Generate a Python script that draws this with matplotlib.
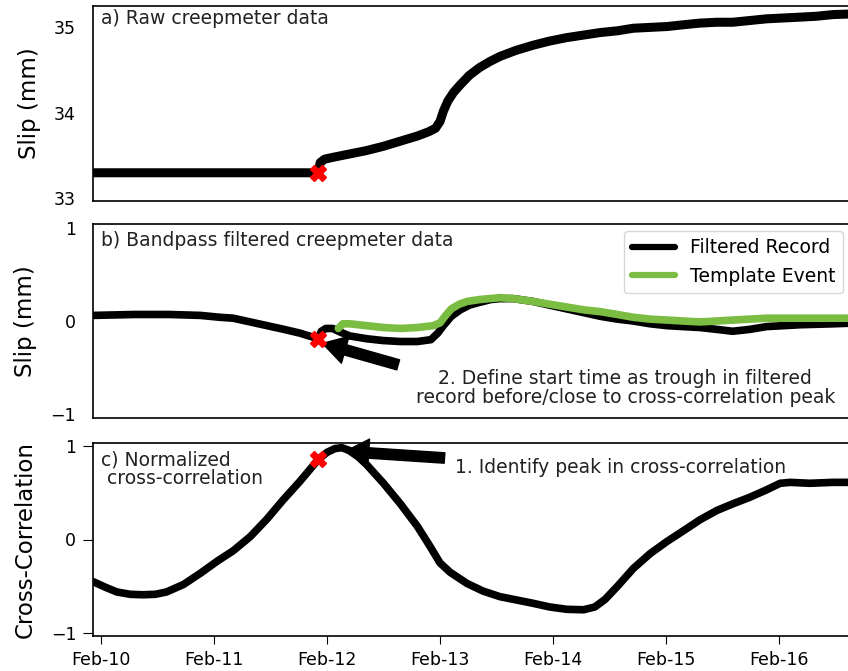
import matplotlib
matplotlib.use("Agg")
import matplotlib.pyplot as plt
import matplotlib.dates as mdates
import numpy as np
from datetime import datetime

# ---- data (time in days after Feb-10 00:00) ----
start = mdates.date2num(datetime(2020, 2, 10))

raw_t = [-0.07, 1.92, 1.94, 1.98, 2.05, 2.20, 2.35, 2.50, 2.65, 2.80, 2.90, 2.96, 3.00, 3.03,
         3.07, 3.12, 3.18, 3.26, 3.35, 3.44, 3.53, 3.67, 3.82, 3.97, 4.12, 4.27, 4.42, 4.57,
         4.71, 4.86, 5.01, 5.15, 5.30, 5.45, 5.59, 5.74, 5.89, 6.04, 6.19, 6.33, 6.48, 6.72]
raw_slip = [33.30, 33.30, 33.42, 33.46, 33.48, 33.52, 33.56, 33.61, 33.67, 33.73, 33.78, 33.82,
            33.90, 34.02, 34.14, 34.24, 34.33, 34.44, 34.53, 34.60, 34.66, 34.73, 34.79, 34.84,
            34.88, 34.91, 34.94, 34.96, 34.99, 35.00, 35.01, 35.03, 35.05, 35.06, 35.06, 35.08,
            35.10, 35.11, 35.12, 35.13, 35.15, 35.16]

filt_t = [-0.07, 0.30, 0.60, 0.88, 1.05, 1.17, 1.32, 1.47, 1.62, 1.76, 1.92, 1.95, 1.99, 2.05,
          2.12, 2.20, 2.35, 2.50, 2.65, 2.80, 2.92, 2.98, 3.03, 3.10, 3.18, 3.26, 3.35, 3.45,
          3.53, 3.65, 3.82, 3.97, 4.12, 4.27, 4.42, 4.57, 4.71, 4.86, 5.01, 5.15, 5.30, 5.45,
          5.59, 5.74, 5.89, 6.04, 6.19, 6.48, 6.72]
filt_slip = [0.06, 0.07, 0.07, 0.06, 0.04, 0.03, -0.01, -0.05, -0.09, -0.13, -0.19, -0.11, -0.08,
             -0.08, -0.12, -0.16, -0.19, -0.21, -0.22, -0.22, -0.20, -0.13, -0.05, 0.05, 0.12,
             0.17, 0.20, 0.23, 0.24, 0.24, 0.21, 0.17, 0.13, 0.09, 0.05, 0.02, 0.00, -0.03, -0.05,
             -0.06, -0.07, -0.09, -0.11, -0.09, -0.06, -0.05, -0.04, -0.03, -0.02]

tmpl_t = [2.10, 2.14, 2.20, 2.35, 2.50, 2.65, 2.80, 2.94, 3.00, 3.05, 3.10, 3.17, 3.24, 3.35,
          3.53, 3.65, 3.82, 3.97, 4.12, 4.27, 4.42, 4.57, 4.71, 4.86, 5.01, 5.15, 5.30, 5.45,
          5.59, 5.74, 5.89, 6.19, 6.72]
tmpl_slip = [-0.08, -0.03, -0.03, -0.05, -0.07, -0.08, -0.07, -0.05, -0.02, 0.06, 0.13, 0.18,
             0.21, 0.23, 0.25, 0.24, 0.21, 0.18, 0.15, 0.12, 0.10, 0.07, 0.04, 0.02, 0.01, 0.00,
             -0.01, 0.00, 0.01, 0.02, 0.03, 0.03, 0.03]

cc_t = [-0.07, 0.04, 0.14, 0.26, 0.37, 0.48, 0.58, 0.73, 0.88, 1.03, 1.17, 1.32, 1.47, 1.61,
        1.76, 1.92, 2.00, 2.07, 2.13, 2.20, 2.27, 2.35, 2.50, 2.65, 2.80, 2.91, 3.00, 3.09,
        3.24, 3.38, 3.53, 3.82, 3.97, 4.12, 4.27, 4.37, 4.46, 4.57, 4.71, 4.86, 5.01, 5.15,
        5.30, 5.45, 5.59, 5.74, 5.89, 6.01, 6.10, 6.27, 6.48, 6.72]
cc_val = [-0.45, -0.51, -0.56, -0.585, -0.59, -0.585, -0.56, -0.48, -0.36, -0.23, -0.12, 0.03,
          0.22, 0.42, 0.62, 0.85, 0.93, 0.97, 0.98, 0.95, 0.89, 0.80, 0.60, 0.38, 0.14, -0.07,
          -0.25, -0.35, -0.47, -0.55, -0.61, -0.68, -0.72, -0.745, -0.75, -0.72, -0.64, -0.50,
          -0.31, -0.15, -0.02, 0.09, 0.21, 0.31, 0.38, 0.45, 0.53, 0.60, 0.61, 0.60, 0.61, 0.61]

pick_t = 1.92
pick_raw = 33.30
pick_filt = -0.19
pick_cc = 0.86

tick_days = [0, 1, 2, 3, 4, 5, 6]

GREEN = "#7bbd42"

def d(arr):
    return start + np.asarray(arr, dtype=float)

W, H = 848, 671
fig = plt.figure(figsize=(W / 100, H / 100), dpi=100)

left = 93 / W
right_px = 880
ax_w_px = right_px - 93
width = ax_w_px / W

def ax_rect(top_px, bot_px):
    return [left, 1 - bot_px / H, width, (bot_px - top_px) / H]

ax1 = fig.add_axes(ax_rect(6, 201))
ax2 = fig.add_axes(ax_rect(224, 418), sharex=ax1)
ax3 = fig.add_axes(ax_rect(443, 636), sharex=ax1)

px_per_day = 113
x0 = start - 8 / px_per_day
x1 = x0 + ax_w_px / px_per_day

TICK_FS = 12.5
TXT_FS = 13.5
YL_FS = 16.5
TXT_C = "#222222"
line_kw = dict(solid_joinstyle="round", solid_capstyle="round")

# Panel a
ax1.plot(d(raw_t), raw_slip, color="black", lw=6.5, **line_kw)
ax1.plot(d([pick_t]), [pick_raw], "X", color="red", ms=11, zorder=5)
ax1.set_ylim(32.97, 35.25)
ax1.set_yticks([33, 34, 35])
ax1.set_ylabel("Slip (mm)", fontsize=YL_FS)
ax1.yaxis.set_label_coords((41 - 93) / ax_w_px, 0.5)
ax1.text(101 / W, 1 - 19 / H, "a) Raw creepmeter data", transform=fig.transFigure,
         fontsize=TXT_FS, va="center", ha="left", color=TXT_C)
ax1.tick_params(axis="y", length=0, labelsize=TICK_FS, pad=12.5)
ax1.tick_params(axis="x", bottom=False, labelbottom=False)

# Panel b
ax2.plot(d(filt_t), filt_slip, color="black", lw=5.5, label="Filtered Record", **line_kw)
ax2.plot(d(tmpl_t), tmpl_slip, color=GREEN, lw=5.5, label="Template Event", **line_kw)
ax2.plot(d([pick_t]), [pick_filt], "X", color="red", ms=11, zorder=5)
ax2.set_ylim(-1.04, 1.04)
ax2.set_yticks([-1, 0, 1])
ax2.set_ylabel("Slip (mm)", fontsize=YL_FS)
ax2.yaxis.set_label_coords((37 - 93) / ax_w_px, 0.5)
ax2.tick_params(axis="y", length=0, labelsize=TICK_FS, pad=12.5)
ax2.tick_params(axis="x", bottom=False, labelbottom=False)
ax2.text(101 / W, 1 - 241 / H, "b) Bandpass filtered creepmeter data", transform=fig.transFigure,
         fontsize=TXT_FS, va="center", ha="left", color=TXT_C)
leg = ax2.legend(loc="upper right", bbox_to_anchor=(843 / W, 1 - 231 / H),
                 bbox_transform=fig.transFigure, borderaxespad=0, fontsize=TXT_FS,
                 handlelength=2.3, frameon=True)
for ln in leg.get_lines():
    ln.set_linewidth(4.5)
ax2.annotate("", xy=(start + 1.96, -0.24), xytext=(start + 2.63, -0.47),
             arrowprops=dict(facecolor="black", edgecolor="black", width=7.5, headwidth=20,
                             headlength=17, shrink=0))
ax2.text(start + 4.64, -0.715,
         "2. Define start time as trough in filtered\nrecord before/close to cross-correlation peak",
         ha="center", va="center", fontsize=TXT_FS, color=TXT_C, linespacing=1.0)

# Panel c
ax3.plot(d(cc_t), cc_val, color="black", lw=5.5, **line_kw)
ax3.plot(d([pick_t]), [pick_cc], "X", color="red", ms=11, zorder=5)
ax3.set_ylim(-1.03, 1.03)
ax3.set_yticks([-1, 0, 1])
ax3.set_ylabel("Cross-Correlation", fontsize=YL_FS)
ax3.yaxis.set_label_coords((37 - 93) / ax_w_px, 0.5)
ax3.tick_params(axis="y", length=7, pad=5, labelsize=TICK_FS)
ax3.tick_params(axis="x", length=6, pad=5, labelsize=TICK_FS)
ax3.text(101 / W, 1 - 469 / H, "c) Normalized\n cross-correlation", transform=fig.transFigure,
         fontsize=TXT_FS, va="center", ha="left", color=TXT_C, linespacing=1.0)
ax3.annotate("", xy=(start + 2.16, 0.94), xytext=(start + 3.04, 0.87),
             arrowprops=dict(facecolor="black", edgecolor="black", width=7.5, headwidth=20,
                             headlength=17, shrink=0))
ax3.text(start + 3.13, 0.77, "1. Identify peak in cross-correlation", ha="left", va="center",
         fontsize=TXT_FS, color=TXT_C)

ax3.set_xlim(x0, x1)
ax3.set_xticks(d(tick_days))
ax3.xaxis.set_major_formatter(mdates.DateFormatter("%b-%d"))

for ax in (ax1, ax2, ax3):
    for s in ax.spines.values():
        s.set_linewidth(1.2)

fig.savefig("out.png", dpi=100)
